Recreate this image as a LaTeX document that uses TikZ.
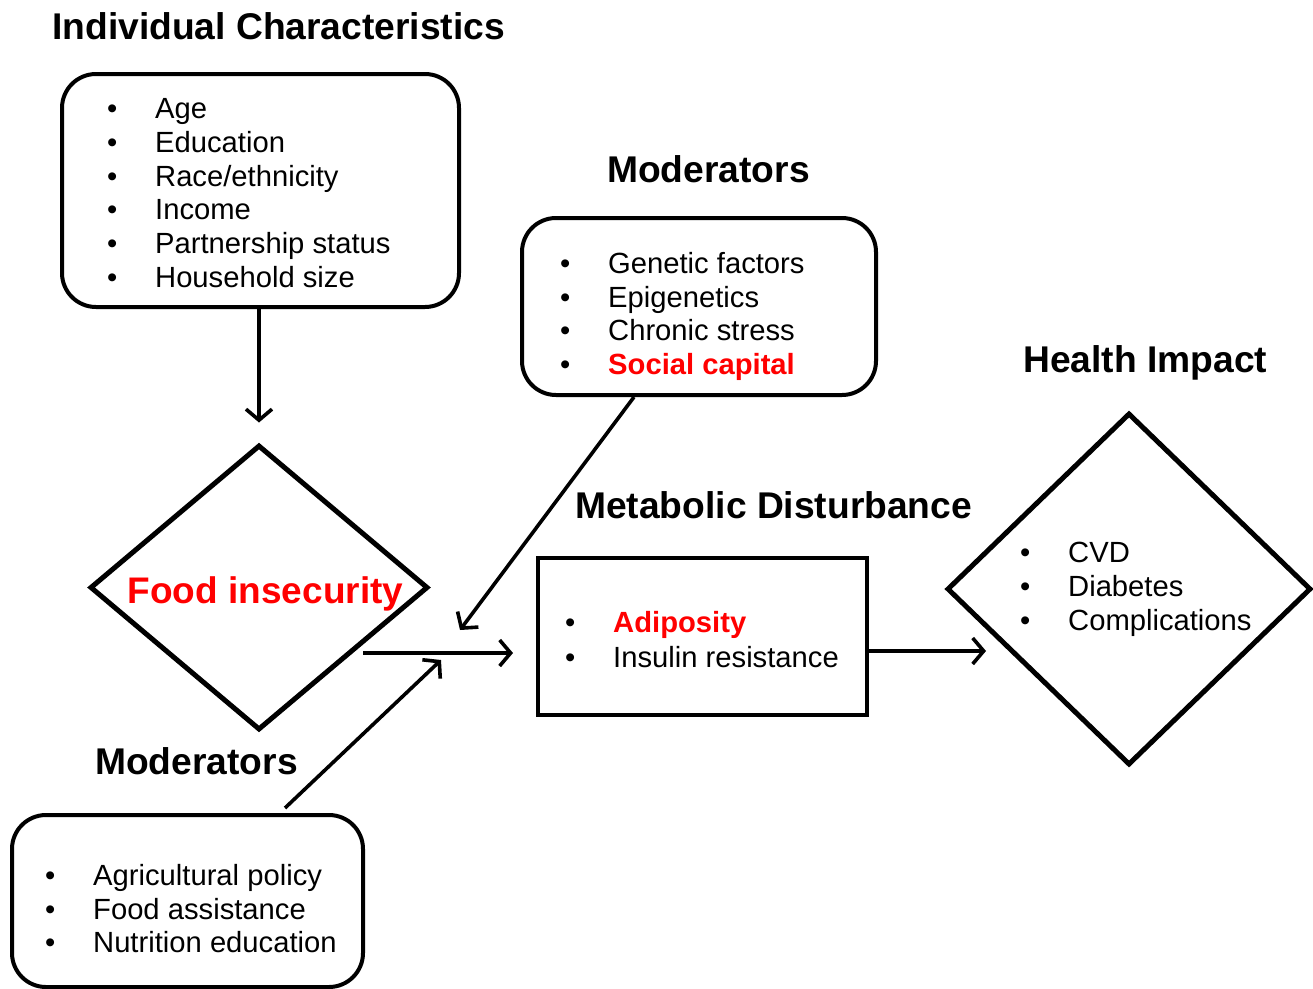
\documentclass[tikz,border=0pt]{standalone}
\usepackage{fontspec}
\setmainfont{Liberation Sans}
\usetikzlibrary{shapes.geometric,arrows.meta,calc}
\newcommand\bitem[1]{\makebox[48pt][l]{\textbullet}#1}
\newcommand\ritem[1]{\makebox[48pt][l]{\textbullet}{\color{red}\bfseries #1}}
\begin{document}
\begin{tikzpicture}[x=1pt,y=-1pt,
  rbox/.style={draw,line width=4pt,rounded corners=34pt,inner sep=0pt},
  sbox/.style={draw,line width=4pt,inner sep=0pt},
  dia/.style={draw,diamond,line width=5pt,inner sep=0pt},
  ttl/.style={anchor=base west,inner sep=0pt,font=\fontsize{37.2}{42}\selectfont\bfseries},
  itm/.style={anchor=base west,inner sep=0pt,font=\fontsize{29.2}{34}\selectfont},
  arr/.style={-{Straight Barb[length=11pt,width=26pt]},line width=3.6pt}]
\useasboundingbox (0,0) rectangle (1313,988);

% titles
\node[ttl] (t1) at (52,39.5) {Individual Characteristics};
\node[ttl] (t2) at (607,182.5) {Moderators};
\node[ttl] (t3) at (1023,372) {Health Impact};
\node[ttl] (t4) at (575,518.5) {Metabolic Disturbance};
\node[ttl] (t5) at (95,774.5) {Moderators};

% boxes
\node[rbox,minimum width=397pt,minimum height=233pt] (ic) at (260.5,190.5) {};
\node[rbox,minimum width=354pt,minimum height=177pt] (mod) at (699,306.5) {};
\node[sbox,minimum width=329pt,minimum height=157pt] (md) at (702.5,636.5) {};
\node[rbox,minimum width=351pt,minimum height=172pt] (pol) at (187.5,901) {};
\node[dia,minimum width=338pt,minimum height=285pt] (fi) at (259,587.5) {};
\node[dia,minimum width=364pt,minimum height=352pt] (hi) at (1129,589) {};

% items
\foreach \t [count=\i from 0] in {Age,Education,Race/ethnicity,Income,Partnership status,Household size}
  \node[itm] (ic\i) at (107,{118.5+\i*33.8}) {\bitem{\t}};
\foreach \t [count=\i from 0] in {Genetic factors,Epigenetics,Chronic stress}
  \node[itm] (mo\i) at (560,{273.5+\i*33.6}) {\bitem{\t}};
\node[itm] (mo3) at (560,374.3) {\ritem{Social capital}};
\node[itm] (md0) at (565,632.5) {\ritem{Adiposity}};
\node[itm] (md1) at (565,667.5) {\bitem{Insulin resistance}};
\foreach \t [count=\i from 0] in {CVD,Diabetes,Complications}
  \node[itm] (hi\i) at (1020,{562.5+\i*34}) {\bitem{\t}};
\foreach \t [count=\i from 0] in {Agricultural policy,Food assistance,Nutrition education}
  \node[itm] (po\i) at (45,{885.5+\i*33.5}) {\bitem{\t}};

\node[anchor=base,inner sep=0pt,text=red,font=\fontsize{37}{42}\selectfont\bfseries] (fit) at (265.5,603) {Food insecurity};

% connectors
\coordinate (hs) at (363,653);
\coordinate (he) at (513,653);
\coordinate (me) at (460,630);
\coordinate (pe) at (441,660);
\coordinate (ht) at (986,651);
\draw[arr] (ic.south -| fi.north) -- ($(fi.north)+(0,-20)$);
\draw[arr] (hs) -- (he);
\draw[arr] ($(mod.south)+(-65,0)$) -- (me);
\draw[arr] ($(pol.north)+(97.5,-5)$) -- (pe);
\draw[arr] ($(md.east)+(0,14.5)$) -- (ht);
\end{tikzpicture}
\end{document}
